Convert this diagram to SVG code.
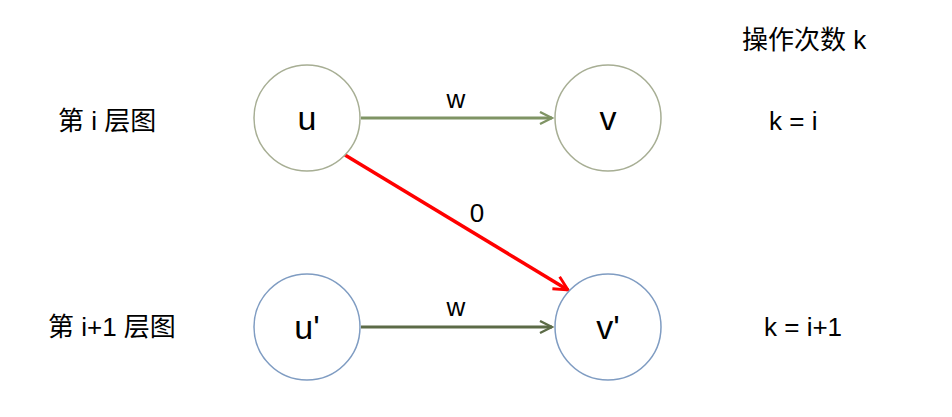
<svg xmlns="http://www.w3.org/2000/svg" width="952" height="417" viewBox="0 0 952 417">
<style>
.t{font-family:"Liberation Sans","Noto Sans CJK SC",sans-serif;fill:#000;}
.lbl{font-size:26px;}
.nd{font-size:34px;text-anchor:middle;}
.c1{fill:#fff;stroke:#a7ae94;stroke-width:1.5;}
.c2{fill:#fff;stroke:#7f9cc2;stroke-width:1.5;}
</style>
<defs>
<marker id="ag" viewBox="0 0 10 10" refX="9" refY="5" markerWidth="5" markerHeight="5" orient="auto" markerUnits="strokeWidth">
<path d="M1,1 L9,5 L1,9" fill="none" stroke="#7f9464" stroke-width="1.6"/>
</marker>
<marker id="ad" viewBox="0 0 10 10" refX="9" refY="5" markerWidth="5" markerHeight="5" orient="auto" markerUnits="strokeWidth">
<path d="M1,1 L9,5 L1,9" fill="none" stroke="#5c6b47" stroke-width="1.6"/>
</marker>
<marker id="ar" viewBox="0 0 10 10" refX="9" refY="5" markerWidth="5" markerHeight="5" orient="auto" markerUnits="strokeWidth">
<path d="M1,1 L9,5 L1,9" fill="none" stroke="#ff0000" stroke-width="1.6"/>
</marker>
</defs>
<rect width="952" height="417" fill="#fff"/>
<g id="connectors">
<line x1="361" y1="118" x2="552" y2="118" stroke="#7f9464" stroke-width="3" marker-end="url(#ag)"/>
<line x1="361" y1="327" x2="552" y2="327" stroke="#5c6b47" stroke-width="3" marker-end="url(#ad)"/>
<line x1="345" y1="155" x2="568" y2="290" stroke="#ff0000" stroke-width="3.5" marker-end="url(#ar)"/>
<text class="t lbl" x="456" y="108" text-anchor="middle">w</text>
<text class="t lbl" x="456" y="316" text-anchor="middle">w</text>
<text class="t lbl" x="477" y="222" text-anchor="middle">0</text>
</g>
<g id="node-u"><circle class="c1" cx="307" cy="118" r="53"/><text class="t nd" x="307" y="130">u</text></g>
<g id="node-v"><circle class="c1" cx="608" cy="118" r="53"/><text class="t nd" x="608" y="130">v</text></g>
<g id="node-u2"><circle class="c2" cx="307" cy="327" r="53"/><text class="t nd" x="307" y="339">u'</text></g>
<g id="node-v2"><circle class="c2" cx="608" cy="327" r="53"/><text class="t nd" x="608" y="339">v'</text></g>
<g id="labels">
<text class="t lbl" x="58" y="130">第 i 层图</text>
<text class="t lbl" x="48" y="336">第 i+1 层图</text>
<text class="t lbl" x="742" y="49">操作次数 k</text>
<text class="t lbl" x="769" y="130">k = i</text>
<text class="t lbl" x="764" y="336">k = i+1</text>
</g>
</svg>
